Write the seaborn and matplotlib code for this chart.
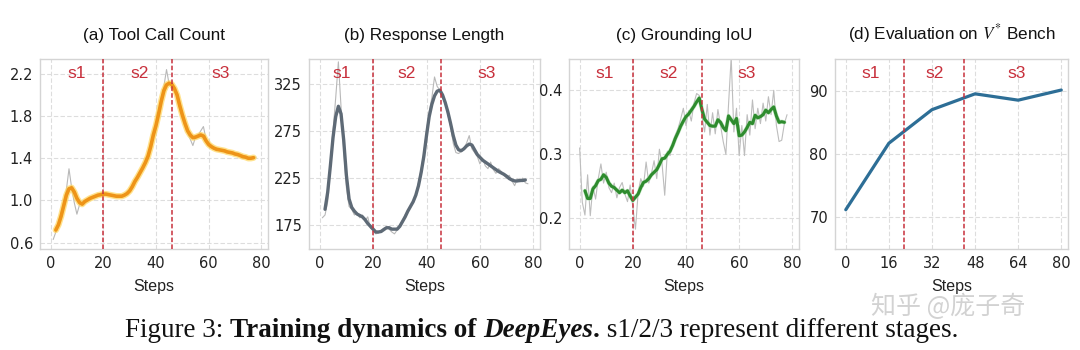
import numpy as np
import pandas as pd
import matplotlib
matplotlib.use("Agg")
import matplotlib.pyplot as plt
import matplotlib.patheffects as pe
import seaborn as sns

# ---------------- data ----------------
# (a) Tool Call Count
tool_raw = [0.63, 0.70, 0.80, 0.88, 0.98, 1.10, 1.30, 1.12, 0.98, 0.87,
            0.96, 0.97, 1.00, 1.01, 1.02, 1.03, 1.04, 1.05, 1.06, 1.05,
            1.07, 1.05, 1.05, 1.04, 1.04, 1.03, 1.04, 1.05, 1.07, 1.10,
            1.14, 1.19, 1.22, 1.27, 1.30, 1.37, 1.43, 1.52, 1.62, 1.72,
            1.83, 1.96, 2.08, 2.24, 2.10, 2.08, 2.05, 1.98, 1.88, 1.80,
            1.72, 1.64, 1.58, 1.52, 1.60, 1.62, 1.66, 1.70, 1.58, 1.52,
            1.50, 1.49, 1.47, 1.48, 1.47, 1.46, 1.46, 1.45, 1.45, 1.44,
            1.43, 1.43, 1.41, 1.41, 1.40, 1.40, 1.41, 1.41]          # steps 1..78
tool_smooth = [0.72, 0.77, 0.85, 0.95, 1.05, 1.11, 1.12, 1.08, 1.02, 0.98,
               0.965, 0.99, 1.005, 1.02, 1.03, 1.04, 1.05, 1.055, 1.06, 1.06,
               1.055, 1.05, 1.045, 1.04, 1.04, 1.04, 1.05, 1.065, 1.09, 1.13,
               1.18, 1.22, 1.265, 1.31, 1.36, 1.42, 1.51, 1.62, 1.71, 1.82,
               1.94, 2.04, 2.095, 2.11, 2.10, 2.06, 2.00, 1.90, 1.81, 1.73,
               1.66, 1.62, 1.595, 1.60, 1.61, 1.62, 1.61, 1.565, 1.53, 1.51,
               1.495, 1.485, 1.48, 1.475, 1.47, 1.46, 1.455, 1.45, 1.44, 1.435,
               1.425, 1.415, 1.41, 1.40, 1.40, 1.405]                 # steps 2..77

# (b) Response Length
resp_raw = [183, 186, 200, 240, 275, 310, 348, 300, 255, 215,
            195, 192, 186, 188, 183, 186, 180, 184, 172, 170,
            166, 167, 170, 172, 173, 171, 168, 166, 170, 175,
            180, 186, 190, 195, 200, 208, 220, 235, 252, 275,
            295, 310, 332, 322, 318, 310, 305, 292, 280, 262,
            252, 251, 253, 256, 262, 270, 256, 252, 248, 240,
            246, 238, 235, 242, 234, 230, 235, 232, 228, 225,
            228, 222, 217, 224, 221, 225, 220, 219]                  # steps 1..78
resp_smooth = [192, 210, 238, 268, 290, 301, 293, 265, 228, 203,
               194, 190, 187, 185.5, 184, 181, 177, 174, 171, 168,
               168, 168.5, 170.5, 172.5, 172.5, 171, 171, 171, 174, 179,
               184, 190, 195, 200, 207, 217, 231, 248, 270, 290,
               303, 312, 317, 318, 313, 305, 295, 283, 270, 260,
               255, 254, 256, 259, 261, 260, 255, 250, 247, 244,
               242, 240, 238, 236, 234, 232, 230.5, 229, 227, 224.5,
               223, 222, 222, 222.5, 222.5, 223]                      # steps 2..77

# (c) Grounding IoU
iou_raw = [0.310, 0.225, 0.205, 0.268, 0.204, 0.250, 0.230, 0.262, 0.285, 0.255,
           0.272, 0.248, 0.240, 0.255, 0.232, 0.248, 0.256, 0.238, 0.226, 0.252,
           0.218, 0.183, 0.240, 0.262, 0.250, 0.288, 0.255, 0.270, 0.290, 0.262,
           0.308, 0.285, 0.236, 0.305, 0.298, 0.318, 0.330, 0.340, 0.355, 0.372,
           0.345, 0.368, 0.352, 0.380, 0.395, 0.392, 0.360, 0.335, 0.378, 0.330,
           0.365, 0.332, 0.370, 0.345, 0.320, 0.300, 0.378, 0.452, 0.335, 0.372,
           0.298, 0.345, 0.298, 0.362, 0.330, 0.385, 0.340, 0.372, 0.348, 0.380,
           0.352, 0.390, 0.362, 0.400, 0.345, 0.320, 0.322, 0.348, 0.362]   # steps 0..78
iou_smooth = [0.243, 0.231, 0.231, 0.246, 0.251, 0.259, 0.261, 0.268, 0.264, 0.255,
              0.250, 0.248, 0.244, 0.240, 0.244, 0.240, 0.243, 0.235, 0.228, 0.233,
              0.238, 0.248, 0.256, 0.258, 0.262, 0.268, 0.272, 0.276, 0.284, 0.293,
              0.294, 0.300, 0.305, 0.314, 0.325, 0.334, 0.344, 0.352, 0.359, 0.363,
              0.369, 0.375, 0.382, 0.388, 0.370, 0.355, 0.350, 0.345, 0.344, 0.344,
              0.354, 0.350, 0.342, 0.337, 0.360, 0.354, 0.348, 0.356, 0.329, 0.330,
              0.335, 0.342, 0.350, 0.348, 0.361, 0.357, 0.359, 0.362, 0.369, 0.365,
              0.370, 0.374, 0.360, 0.350, 0.351, 0.350]                        # steps 2..77

# (d) Evaluation on V* Bench
eval_steps = [0, 16, 32, 48, 64, 80]
eval_score = [71.2, 81.7, 87.0, 89.5, 88.5, 90.1]

titles = ["(a) Tool Call Count", "(b) Response Length", "(c) Grounding IoU",
          r"(d) Evaluation on $V^{*}$ Bench"]
stage_labels = ["s1", "s2", "s3"]
stage_bounds = [[20, 46], [20, 45.5], [20, 46], [21.5, 44]]
stage_label_x = [[9.8, 34, 64.5], [8.1, 32.4, 62.7], [9.4, 33.5, 62.8], [9.4, 33, 63.5]]
yticks = [[0.6, 1.0, 1.4, 1.8, 2.2], [175, 225, 275, 325], [0.2, 0.3, 0.4], [70, 80, 90]]
ylims = [(0.54, 2.34), (150, 351), (0.152, 0.449), (65, 95)]
xticks = [[0, 20, 40, 60, 80]] * 3 + [eval_steps]

# ---------------- style ----------------
sns.set_theme(style="whitegrid")
plt.rcParams["font.family"] = ["DejaVu Sans"]
plt.rcParams["mathtext.fontset"] = "stix"
SANS = ["Liberation Sans", "DejaVu Sans"]

fig = plt.figure(figsize=(10.8, 3.5), dpi=100)
W, H = 1080, 350
boxes = [(40, 228), (309, 231), (569, 230), (835, 233)]
ax_top, ax_bot = 59, 249
axes = [fig.add_axes([l / W, 1 - ax_bot / H, w / W, (ax_bot - ax_top) / H]) for l, w in boxes]

RED = "#c8303c"
GRID = "#dddddd"

# (a)
ax = axes[0]
sns.lineplot(x=np.arange(1, 1 + len(tool_raw)), y=tool_raw, ax=ax, color="#b8b8b8", lw=0.8)
sns.lineplot(x=np.arange(2, 2 + len(tool_smooth)), y=tool_smooth, ax=ax, color="#ee9418", lw=2.6,
             path_effects=[pe.Stroke(linewidth=4.6, foreground="#ffd75e", alpha=0.7), pe.Normal()])
# (b)
ax = axes[1]
sns.lineplot(x=np.arange(1, 1 + len(resp_raw)), y=resp_raw, ax=ax, color="#b8b8b8", lw=0.8)
sns.lineplot(x=np.arange(2, 2 + len(resp_smooth)), y=resp_smooth, ax=ax, color="#5e6a76", lw=2.4)
# (c)
ax = axes[2]
sns.lineplot(x=np.arange(0, len(iou_raw)), y=iou_raw, ax=ax, color="#bdbdbd", lw=0.8)
sns.lineplot(x=np.arange(2, 2 + len(iou_smooth)), y=iou_smooth, ax=ax, color="#2e8b2e", lw=2.2,
             path_effects=[pe.Stroke(linewidth=3.0, foreground="#8fd88f", alpha=0.5), pe.Normal()])
# (d)
ax = axes[3]
sns.lineplot(x=eval_steps, y=eval_score, ax=ax, color="#2d6e96", lw=2.3)

for i, ax in enumerate(axes):
    ax.set_facecolor("white")
    ax.set_xlim(-4, 82.5)
    ax.set_ylim(*ylims[i])
    ax.set_xticks(xticks[i])
    ax.set_yticks(yticks[i])
    if i in (0, 2):
        ax.set_yticklabels([f"{v:.1f}" for v in yticks[i]])
    ax.grid(True, color=GRID, linestyle=(0, (4, 2)), linewidth=0.8)
    for sp in ax.spines.values():
        sp.set_color("#d4d4d4")
        sp.set_linewidth(1.0)
    ax.tick_params(length=0, pad=5, labelsize=10.5, labelcolor="#222222")
    ax.set_xlabel("Steps", fontsize=11.5, color="#222222", labelpad=6, family=SANS)
    ax.set_ylabel("")
    ax.set_title(titles[i], fontsize=12.3, color="#111111", pad=14, family=SANS)
    for b in stage_bounds[i]:
        ax.axvline(b, color=RED, lw=1.1, linestyle=(0, (3, 1.5)), zorder=3)
    for lab, xp in zip(stage_labels, stage_label_x[i]):
        ax.text(xp, 0.925, lab, transform=ax.get_xaxis_transform(), ha="center", va="center",
                color=RED, fontsize=12.5, family=SANS)

# watermark
fig.text(0.878, 1 - 307 / H, "知乎 @庞子奇", ha="center", va="center", fontsize=18,
         color="#d2d2d2", family=["Noto Sans CJK SC", "DejaVu Sans"], zorder=0)

# caption
cap_ax = fig.add_axes([0, 0, 1, 1])
cap_ax.axis("off")
cap_ax.set_xlim(0, 1)
cap_ax.set_ylim(0, 1)
serif = ["Liberation Serif", "DejaVu Serif"]
fs = 19.5
pieces = [("Figure 3: ", "normal", "normal"),
          ("Training dynamics of ", "bold", "normal"),
          ("DeepEyes", "bold", "italic"),
          (".", "bold", "normal"),
          (" s1/2/3 represent different stages.", "normal", "normal")]
first = cap_ax.text(0.11, 1 - 337 / H, pieces[0][0], fontsize=fs, fontweight=pieces[0][1],
                    fontstyle=pieces[0][2], family=serif, va="baseline", ha="left", color="#111111")
prev = first
texts = [first]
for txt, wt, st in pieces[1:]:
    prev = cap_ax.annotate(txt, xy=(1, 0), xycoords=prev, va="bottom", ha="left",
                           fontsize=fs, fontweight=wt, fontstyle=st, family=serif, color="#111111")
    texts.append(prev)
fig.canvas.draw()
r = fig.canvas.get_renderer()
x0 = texts[0].get_window_extent(r).x0
x1 = texts[-1].get_window_extent(r).x1
target_center = (125 + 958) / 2
shift = (target_center - (x0 + x1) / 2) / W
first.set_x(0.11 + shift)

fig.savefig("out.png", dpi=100, facecolor="white")
